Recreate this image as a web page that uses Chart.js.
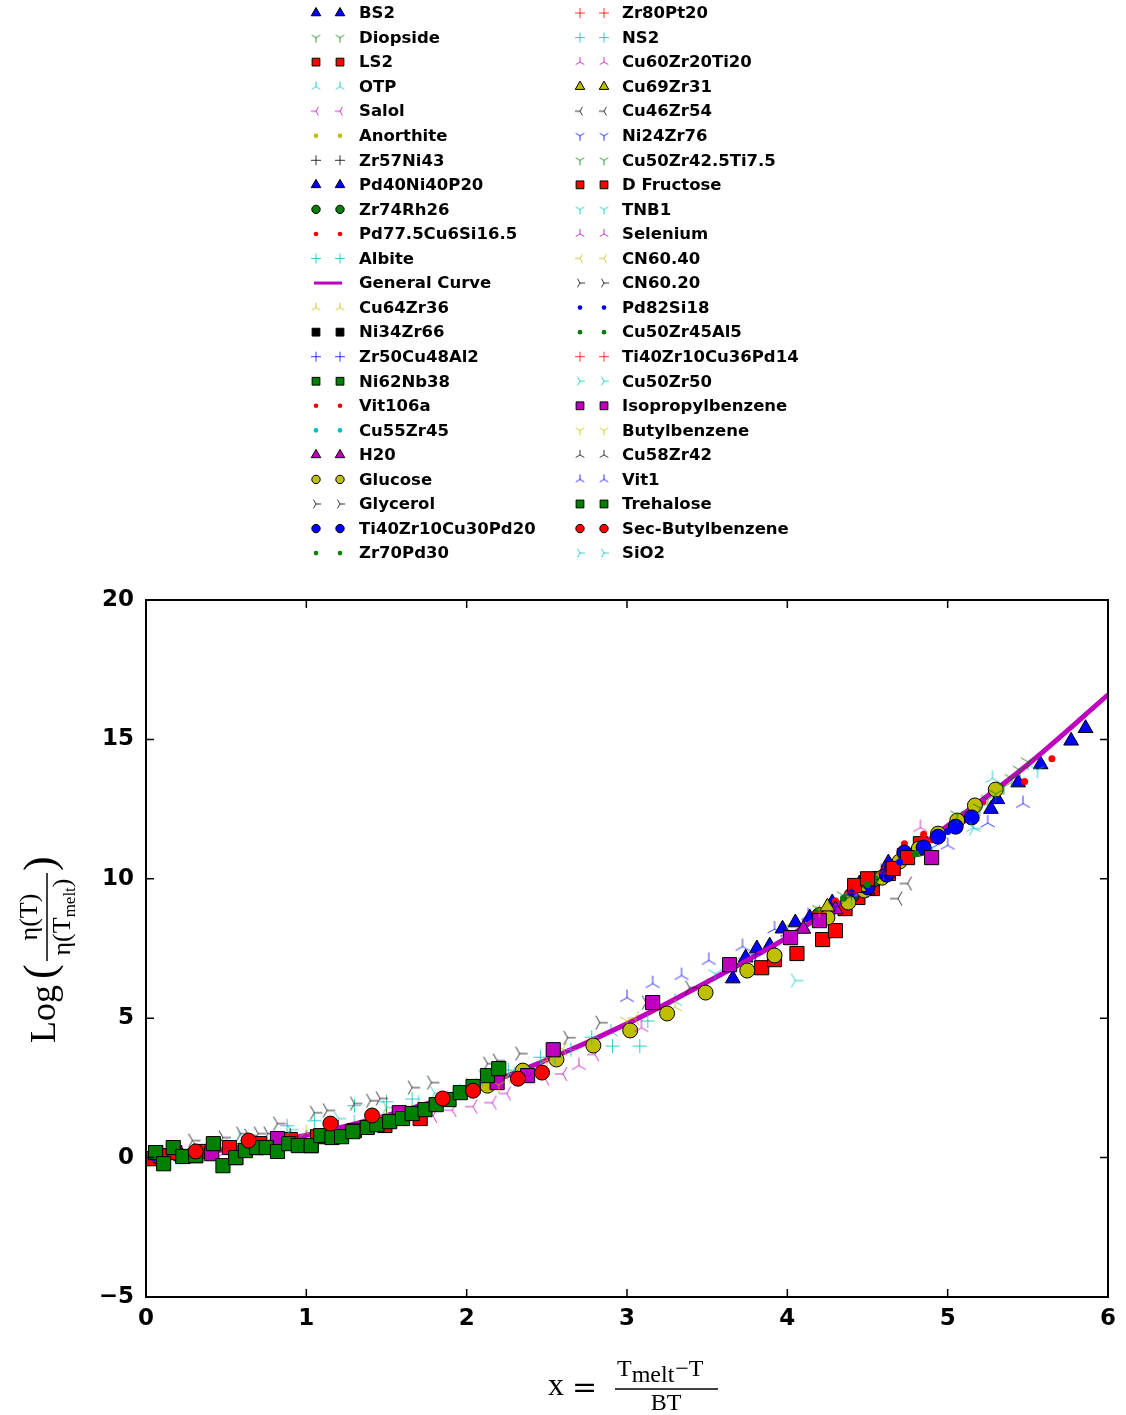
<!DOCTYPE html>
<html><head><meta charset="utf-8">
<script src="https://cdn.jsdelivr.net/npm/chart.js@4.4.0/dist/chart.umd.min.js"></script>
<style>html,body{margin:0;padding:0;background:#fff;}canvas{display:block;}</style>
</head><body>
<canvas id="c" width="1126" height="1415" style="width:1126px;height:1415px"></canvas>
<script>
// ---------------- data ----------------
const seriesNames = ["BS2","Diopside","LS2","OTP","Salol","Anorthite","Zr57Ni43","Pd40Ni40P20","Zr74Rh26","Pd77.5Cu6Si16.5","Albite","General Curve","Cu64Zr36","Ni34Zr66","Zr50Cu48Al2","Ni62Nb38","Vit106a","Cu55Zr45","H20","Glucose","Glycerol","Ti40Zr10Cu30Pd20","Zr70Pd30",
"Zr80Pt20","NS2","Cu60Zr20Ti20","Cu69Zr31","Cu46Zr54","Ni24Zr76","Cu50Zr42.5Ti7.5","D Fructose","TNB1","Selenium","CN60.40","CN60.20","Pd82Si18","Cu50Zr45Al5","Ti40Zr10Cu36Pd14","Cu50Zr50","Isopropylbenzene","Butylbenzene","Cu58Zr42","Vit1","Trehalose","Sec-Butylbenzene","SiO2"];
const seriesColorCodes = ["b","g","r","c","m","y","k","b","g","r","c","m","y","k","b","g","r","c","m","y","k","b","g","r","c","m","y","k","b","g","r","c","m","y","k","b","g","r","c","m","y","k","b","g","r","c"];
const seriesMarkers = ["triangle","tri1","square","tri2","tri3","dot","plus","triangle","circle","dot","plus","line","tri2","square","plus","square","dot","dot","triangle","circle","tri4","circle","dot",
"plus","plus","tri2","triangle","tri3","tri1","tri1","square","tri1","tri2","tri3","tri4","dot","dot","plus","tri4","square","tri1","tri2","tri2","square","circle","tri4"];

const BS2 = [[5.15,12.25],[5.27,12.5],[5.31,12.85],[5.44,13.45],[5.58,14.1],[5.77,14.95],[5.86,15.4]];
const Diopside = [[4.2,8.9],[4.35,9.4],[4.5,9.95],[4.62,10.4],[4.78,10.95],[4.95,11.7]];
const LS2 = [[3.84,6.81],[3.92,7.1],[4.06,7.32],[4.22,7.82],[4.3,8.14],[4.36,8.93],[4.44,9.33],[4.53,9.65],[4.63,10.19],[4.73,10.83],[4.83,11.26]];
const OTP = [[0.2,0.15],[0.5,0.35],[0.9,0.75],[1.3,1.25],[1.7,1.95],[2.1,2.75],[2.5,3.6],[2.9,4.5],[3.3,5.6],[3.7,6.9],[4.1,8.3],[4.5,9.9],[5.16,11.84],[5.28,13.6]];
const Salol = [[1.79,1.5],[1.91,1.7],[2.04,1.83],[2.16,1.97],[2.25,2.3],[2.49,2.83],[2.6,3.0],[2.8,3.7]];
const Anorthite = [[4.0,8.0],[4.3,9.0],[4.6,10.2],[4.9,11.4],[5.1,12.3]];
const Zr57Ni43 = [[0.3,0.3],[0.6,0.5],[0.9,0.8],[1.2,1.1],[1.5,1.5]];
const Pd40Ni40P20 = [[3.66,6.42],[3.74,7.17],[3.81,7.5],[3.89,7.6],[3.97,8.21],[4.05,8.43],[4.14,8.61],[4.28,9.15],[4.45,9.83],[4.63,10.58]];
const Zr74Rh26 = [[4.2,8.7],[4.4,9.4],[4.55,10.0]];
const Pd77_5Cu6Si16_5 = [[4.73,11.26],[4.85,11.6],[5.22,12.77],[5.48,13.49],[5.65,14.31]];
const Albite = [[0.88,1.14],[1.05,1.32],[1.3,1.86],[1.5,2.0],[1.66,2.1],[1.76,1.71],[1.88,2.15],[1.96,2.39]];
const generalCurveX = [0,0.5,1,1.5,2,2.5,3,3.5,4,4.5,5,5.5,6];
const generalCurveY = [0,0.3,0.8,1.5,2.4,3.5,4.8,6.3,7.9,9.8,11.9,14.1,16.6];
const Cu64Zr36 = [[0.5,0.4],[1.0,0.9],[1.5,1.6],[2.0,2.6],[2.5,3.5],[3.3,5.4],[4.0,8.1],[4.4,9.6]];
const Ni34Zr66 = [[0.06,0.18],[0.23,0.04],[0.56,0.0]];
const Zr50Cu48Al2 = [[3.8,7.3],[4.0,7.95],[4.2,8.6],[4.4,9.35]];
const Ni62Nb38 = [[0.31,0.07],[0.69,0.36],[1.03,0.43]];
const Vit106a = [[4.3,9.2],[4.45,9.8],[4.6,10.3],[4.9,11.4],[5.1,12.1]];
const Cu55Zr45 = [[0.1,0.1],[0.4,0.3],[0.7,0.55],[4.5,9.9],[4.8,11.0]];
const H20 = [[4.1,8.2],[4.3,8.9],[4.5,9.6]];
const Glucose = [[2.13,2.58],[2.35,3.12],[2.56,3.52],[2.79,4.02],[3.02,4.56],[3.25,5.17],[3.49,5.92],[3.75,6.71],[3.92,7.25],[4.25,8.61],[4.38,9.15],[4.48,9.58],[4.59,10.04],[4.70,10.62],[4.82,11.08],[4.94,11.62],[5.06,12.09],[5.17,12.63],[5.30,13.20]];
const Glycerol = [[0.29,0.61],[0.48,0.72],[0.59,0.86],[0.64,0.79],[0.70,0.86],[0.76,0.86],[0.82,1.22],[1.05,1.61],[1.13,1.69],[1.30,1.94],[1.40,2.04],[1.46,2.12],[1.66,2.51],[1.78,2.69],[2.13,3.37],[2.19,3.48],[2.33,3.73]];
const Ti40Zr10Cu30Pd20 = [[0.1,0.05],[0.2,0.12],[4.5,9.7],[4.62,10.15],[4.73,10.94],[4.85,11.12],[4.94,11.51],[5.05,11.87],[5.15,12.2]];
const Zr70Pd30 = [[4.35,9.3],[4.55,10.0],[4.75,10.7]];
const Zr80Pt20 = [[0.15,0.0],[0.35,0.2],[0.6,0.4],[0.85,0.6]];
const NS2 = [[2.06,2.61],[2.26,3.14],[2.3,3.0],[2.46,3.6],[2.55,3.6],[2.65,3.87],[2.78,4.32],[2.91,4.0],[3.08,4.0],[3.13,4.9]];
const Cu60Zr20Ti20 = [[4.4,9.5],[4.6,10.3],[4.83,11.84]];
const Cu69Zr31 = [[4.25,9.0],[4.45,9.7]];
const Cu46Zr54 = [[4.69,9.29],[4.75,9.83]];
const Ni24Zr76 = [[4.3,9.0],[4.5,9.6],[4.9,11.1]];
const Cu50Zr42_5Ti7_5 = [[5.06,12.3],[5.2,12.55],[5.25,12.85],[5.3,13.05],[5.35,13.3],[5.4,13.6],[5.45,13.9],[5.5,14.2]];
const DFructose = [[0.02,-0.04],[0.09,0.07],[0.18,0.18],[0.34,0.22],[0.52,0.36],[0.71,0.5],[0.9,0.65],[1.07,0.75],[1.3,0.97],[1.49,1.15],[1.71,1.4],[4.42,9.76],[4.5,10.0],[4.66,10.37],[4.75,10.76]];
const TNB1 = [[3.55,6.6],[4.4,9.3],[5.56,13.9]];
const Selenium = [[0.5,0.2],[1.0,0.7],[2.7,3.3],[3.09,4.66]];
const CN60_40 = [[2.25,2.9],[2.6,3.9],[3.05,5.0]];
const CN60_20 = [[2.63,4.3],[2.83,4.84],[3.12,5.56],[3.39,6.1]];
const Pd82Si18 = [[0.05,0.0],[4.4,9.5],[4.7,10.6],[5.0,11.7]];
const Cu50Zr45Al5 = [[4.5,9.8],[4.8,10.9]];
const Ti40Zr10Cu36Pd14 = [[4.2,8.8],[4.4,9.5],[4.6,10.2]];
const Cu50Zr50 = [[0.6,0.7],[0.9,1.0],[1.2,1.4],[1.5,1.8],[1.8,2.3],[2.1,2.9]];
const Isopropylbenzene = [[0.41,0.14],[0.82,0.68],[1.58,1.61],[2.19,2.69],[2.38,2.94],[2.54,3.87],[3.16,5.56],[3.64,6.92],[4.02,7.89],[4.2,8.5],[4.90,10.76]];
const Butylbenzene = [[2.2,2.6],[2.5,3.4],[3.0,4.9],[4.2,8.9]];
const Cu58Zr42 = [[4.4,9.4],[4.6,10.1]];
const Vit1 = [[3.0,5.74],[3.16,6.24],[3.34,6.53],[3.51,7.07],[3.72,7.57],[3.92,8.2],[4.13,8.68],[5.0,11.2],[5.25,12.0],[5.47,12.7]];
const Trehalose = [[0.06,0.18],[0.11,-0.22],[0.17,0.36],[0.23,0.04],[0.31,0.07],[0.42,0.50],[0.48,-0.29],[0.56,0.0],[0.62,0.25],[0.69,0.36],[0.75,0.36],[0.82,0.22],[0.89,0.50],[0.95,0.43],[1.03,0.43],[1.09,0.79],[1.16,0.72],[1.22,0.75],[1.29,0.93],[1.38,1.08],[1.44,1.18],[1.52,1.29],[1.60,1.40],[1.66,1.58],[1.74,1.72],[1.81,1.90],[1.89,2.08],[1.96,2.33],[2.04,2.55],[2.13,2.94],[2.20,3.19]];
const SecButylbenzene = [[0.31,0.22],[0.64,0.61],[1.15,1.22],[1.41,1.51],[1.85,2.12],[2.04,2.40],[2.32,2.83],[2.47,3.05]];
const SiO2 = [[4.05,6.35],[5.16,11.8]];

const seriesData = [BS2,Diopside,LS2,OTP,Salol,Anorthite,Zr57Ni43,Pd40Ni40P20,Zr74Rh26,Pd77_5Cu6Si16_5,Albite,null,Cu64Zr36,Ni34Zr66,Zr50Cu48Al2,Ni62Nb38,Vit106a,Cu55Zr45,H20,Glucose,Glycerol,Ti40Zr10Cu30Pd20,Zr70Pd30,
Zr80Pt20,NS2,Cu60Zr20Ti20,Cu69Zr31,Cu46Zr54,Ni24Zr76,Cu50Zr42_5Ti7_5,DFructose,TNB1,Selenium,CN60_40,CN60_20,Pd82Si18,Cu50Zr45Al5,Ti40Zr10Cu36Pd14,Cu50Zr50,Isopropylbenzene,Butylbenzene,Cu58Zr42,Vit1,Trehalose,SecButylbenzene,SiO2];

const xTicks = [0,1,2,3,4,5,6];
const yTicks = [-5,0,5,10,15,20];

// ---------------- styling helpers ----------------
const COLORS = {b:'#0000ff',g:'#008000',r:'#ff0000',c:'#00bfbf',m:'#bf00bf',y:'#bfbf00',k:'#000000'};
function triCanvas(kind, color, size, lw){
  const c = document.createElement('canvas'); c.width = size; c.height = size;
  const g = c.getContext('2d'); const m = size/2; const L = size/2 - 1;
  const dirs = {
    tri1: [[0,1],[-0.866,-0.5],[0.866,-0.5]],
    tri2: [[0,-1],[-0.866,0.5],[0.866,0.5]],
    tri3: [[-1,0],[0.5,-0.866],[0.5,0.866]],
    tri4: [[1,0],[-0.5,-0.866],[-0.5,0.866]]
  }[kind];
  g.strokeStyle = color; g.lineWidth = lw; g.globalAlpha = 0.8; g.beginPath();
  dirs.forEach(d => { g.moveTo(m,m); g.lineTo(m + d[0]*L, m + d[1]*L); });
  g.stroke();
  return c;
}
function pointOpts(marker, color, legend){
  const s = legend ? 0.55 : 1;
  switch(marker){
    case 'square': return {pointStyle:'rect', radius:10*s, bg:color, border:'#000', bw:1};
    case 'circle': return {pointStyle:'circle', radius:(legend?4.2:7.5), bg:color, border:'#000', bw:1};
    case 'triangle': return {pointStyle:'triangle', radius:(legend?5.5:8.5), bg:color, border:'#000', bw:1};
    case 'dot': return {pointStyle:'circle', radius:(legend?2.3:3.5), bg:color, border:color, bw:0};
    case 'plus': return {pointStyle:'cross', radius:(legend?5:7), bg:color, border:color+'cc', bw:1};
    default: return {pointStyle: triCanvas(marker, color, legend?12:18, 1), radius:8, bg:color, border:color, bw:0};
  }
}

const datasets = seriesNames.map((name, i) => {
  const color = COLORS[seriesColorCodes[i]];
  const mk = seriesMarkers[i];
  if (mk === 'line') {
    return {type:'line', label:name, data: generalCurveX.map((x,j)=>({x:x, y:generalCurveY[j]})),
      borderColor:color, borderWidth:5, pointRadius:0, showLine:true, fill:false,
      cubicInterpolationMode:'monotone', order:-i};
  }
  const p = pointOpts(mk, color, false);
  return {type:'scatter', label:name, data: seriesData[i].map(d=>({x:d[0], y:d[1]})),
    pointStyle:p.pointStyle, pointRadius:p.radius, pointBackgroundColor:p.bg,
    pointBorderColor:p.border, pointBorderWidth:p.bw, showLine:false, order:-i};
});

const legendPlugin = {
  id:'mplLegend',
  afterDraw(chart){
    const ctx = chart.ctx;
    ctx.save();
    seriesNames.forEach((name, i) => {
      const col = i < 23 ? 0 : 1; const row = i % 23;
      const y = 13 + row * 24.55;
      const mx = col === 0 ? [316, 340] : [580, 604];
      const tx = col === 0 ? 359 : 622;
      const color = COLORS[seriesColorCodes[i]];
      const mk = seriesMarkers[i];
      if (mk === 'line') {
        ctx.strokeStyle = color; ctx.lineWidth = 3; ctx.beginPath();
        ctx.moveTo(314, y); ctx.lineTo(342, y); ctx.stroke();
      } else {
        const p = pointOpts(mk, color, true);
        mx.forEach(x => {
          ctx.fillStyle = p.bg; ctx.strokeStyle = p.border; ctx.lineWidth = p.bw;
          Chart.helpers.drawPoint(ctx, {pointStyle:p.pointStyle, radius:p.radius, rotation:0, borderWidth:p.bw}, x, y);
        });
      }
      ctx.fillStyle = '#000'; ctx.font = 'bold 16.5px "DejaVu Sans"';
      ctx.textBaseline = 'middle'; ctx.textAlign = 'left';
      ctx.fillText(name, tx, y + 1);
    });
    ctx.restore();
  }
};

const framePlugin = {
  id:'mplFrame',
  afterDraw(chart){
    const ctx = chart.ctx, a = chart.chartArea;
    const xs = chart.scales.x, ys = chart.scales.y;
    ctx.save();
    ctx.strokeStyle = '#000'; ctx.lineWidth = 1.5;
    ctx.beginPath();
    xTicks.forEach(v => { const px = xs.getPixelForValue(v);
      ctx.moveTo(px, a.bottom); ctx.lineTo(px, a.bottom - 8);
      ctx.moveTo(px, a.top); ctx.lineTo(px, a.top + 8); });
    yTicks.forEach(v => { const py = ys.getPixelForValue(v);
      ctx.moveTo(a.left, py); ctx.lineTo(a.left + 8, py);
      ctx.moveTo(a.right, py); ctx.lineTo(a.right - 8, py); });
    ctx.stroke();
    ctx.lineWidth = 2;
    ctx.strokeRect(a.left, a.top, a.right - a.left, a.bottom - a.top);

    // y-axis title (rotated)
    ctx.fillStyle = '#000';
    ctx.save();
    ctx.rotate(-Math.PI/2);
    ctx.textBaseline = 'alphabetic'; ctx.textAlign = 'left';
    ctx.font = '36px "Liberation Serif"';
    ctx.fillText('Log', -1043, 55);
    ctx.font = '44px "Liberation Serif"';
    ctx.fillText('(', -979, 54);
    ctx.fillText(')', -871, 54);
    ctx.lineWidth = 1.5; ctx.beginPath(); ctx.moveTo(-961, 47); ctx.lineTo(-873, 47); ctx.stroke();
    const cu = -917;
    ctx.font = '26px "Liberation Serif"';
    let w = ctx.measureText('η(T)').width;
    ctx.fillText('η(T)', cu - w/2, 37);
    ctx.font = '26px "Liberation Serif"';
    const w1 = ctx.measureText('η(T').width, w3 = ctx.measureText(')').width;
    ctx.font = '17px "Liberation Serif"';
    const w2 = ctx.measureText('melt').width;
    let u0 = cu - (w1 + w2 + w3)/2;
    ctx.font = '26px "Liberation Serif"'; ctx.fillText('η(T', u0, 70);
    ctx.font = '17px "Liberation Serif"'; ctx.fillText('melt', u0 + w1, 75);
    ctx.font = '26px "Liberation Serif"'; ctx.fillText(')', u0 + w1 + w2, 70);
    ctx.restore();

    // x-axis title
    ctx.textBaseline = 'alphabetic'; ctx.textAlign = 'left';
    ctx.font = '32px "Liberation Serif"';
    ctx.fillText('x', 548, 1395);
    ctx.font = '30px "DejaVu Serif"';
    ctx.fillText('=', 572, 1397);
    ctx.lineWidth = 1.5; ctx.beginPath(); ctx.moveTo(615, 1389); ctx.lineTo(718, 1389); ctx.stroke();
    ctx.font = '24px "Liberation Serif"';
    let x0 = 617;
    ctx.fillText('T', x0, 1376); x0 += ctx.measureText('T').width;
    ctx.fillText('melt', x0, 1382); x0 += ctx.measureText('melt').width;
    ctx.fillText('\u2212T', x0 + 1, 1376);
    const wb = ctx.measureText('BT').width;
    ctx.fillText('BT', 666 - wb/2, 1410);
    ctx.restore();
  }
};

new Chart(document.getElementById('c'), {
  type:'scatter',
  data:{datasets},
  options:{
    responsive:false, animation:false, events:[],
    layout:{padding:{top:600, right:18, left:0, bottom:0}},
    plugins:{legend:{display:false}, tooltip:{enabled:false}, title:{display:false}},
    scales:{
      x:{type:'linear', min:0, max:6, afterFit(s){ s.height = 118; },
        afterBuildTicks(s){ s.ticks = xTicks.map(v=>({value:v})); },
        grid:{display:false, drawTicks:false}, border:{display:false},
        ticks:{padding:8, color:'#000', font:{family:'DejaVu Sans', weight:'bold', size:23},
          callback:v => v < 0 ? '\u2212' + (-v) : String(v)}},
      y:{type:'linear', min:-5, max:20, afterFit(s){ s.width = 146; },
        afterBuildTicks(s){ s.ticks = yTicks.map(v=>({value:v})); },
        grid:{display:false, drawTicks:false}, border:{display:false},
        ticks:{padding:12, color:'#000', font:{family:'DejaVu Sans', weight:'bold', size:23},
          callback:v => v < 0 ? '\u2212' + (-v) : String(v)}}
    }
  },
  plugins:[legendPlugin, framePlugin]
});
</script>
</body></html>
